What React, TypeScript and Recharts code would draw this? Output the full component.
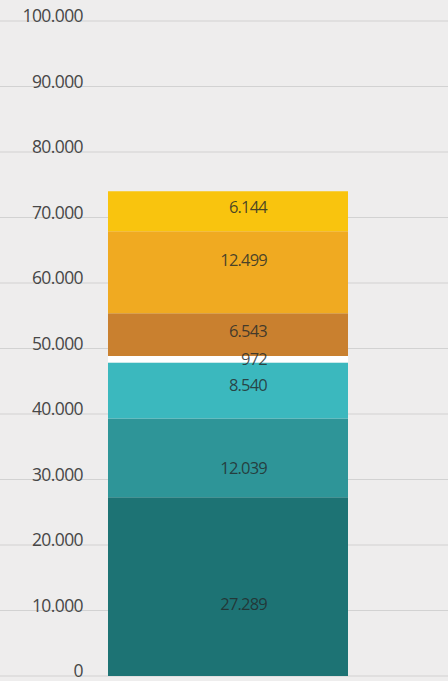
import { BarChart, Bar, XAxis, YAxis, CartesianGrid, LabelList } from "recharts";

// stacked segments, bottom to top
const segmentKeys = ["s1", "s2", "s3", "s4", "s5", "s6", "s7"];
const segmentValues = [27289, 12039, 8540, 972, 6543, 12499, 6144];
const segmentColors = ["#1d7374", "#2e9598", "#3bb8be", "#ffffff", "#c9802f", "#f0aa21", "#f9c40e"];
const yTicks = [0, 10000, 20000, 30000, 40000, 50000, 60000, 70000, 80000, 90000, 100000];

// small vertical nudges for the value labels (px)
const labelNudge = [18, 10, -5, 0, -4, -12, -4];

const row: Record<string, number | string> = { name: "total" };
segmentKeys.forEach((k, i) => {
  row[k] = segmentValues[i];
});
const data = [row];

const fmt = (v: number) => v.toLocaleString("de-DE");

const renderTick = (props: any) => {
  const { y, payload } = props;
  return (
    <text
      key={payload.value}
      x={83}
      y={y + 1}
      textAnchor="end"
      fill="#474747"
      fontSize={17.5}
      fontFamily="'Open Sans', sans-serif"
      letterSpacing={-0.6}
    >
      {fmt(payload.value)}
    </text>
  );
};

export default function App() {
  return (
    <div
      style={{
        position: "fixed",
        top: 0,
        left: 0,
        width: 448,
        height: 681,
        background: "#eeeded",
      }}
    >
      <BarChart
        width={448}
        height={681}
        data={data}
        margin={{ top: 21, right: 0, bottom: 5, left: 0 }}
        barSize={240}
      >
        <CartesianGrid vertical={false} stroke="#d2d2d2" strokeWidth={1.2} />
        <XAxis dataKey="name" hide padding={{ left: 8, right: 0 }} />
        <YAxis
          mirror
          width={90}
          domain={[0, 100000]}
          ticks={yTicks}
          axisLine={false}
          tickLine={false}
          tick={renderTick}
          interval={0}
        />
        {segmentKeys.map((k, i) => (
          <Bar key={k} dataKey={k} stackId="a" fill={segmentColors[i]} isAnimationActive={false}>
            <LabelList
              dataKey={k}
              position="center"
              formatter={(v: any) => fmt(Number(v))}
              fill="#242a2a"
              fillOpacity={0.82}
              fontSize={16.5}
              fontFamily="'Open Sans', sans-serif"
              letterSpacing={-0.8}
              textAnchor="end"
              dx={39}
              dy={labelNudge[i]}
            />
          </Bar>
        ))}
      </BarChart>
    </div>
  );
}
